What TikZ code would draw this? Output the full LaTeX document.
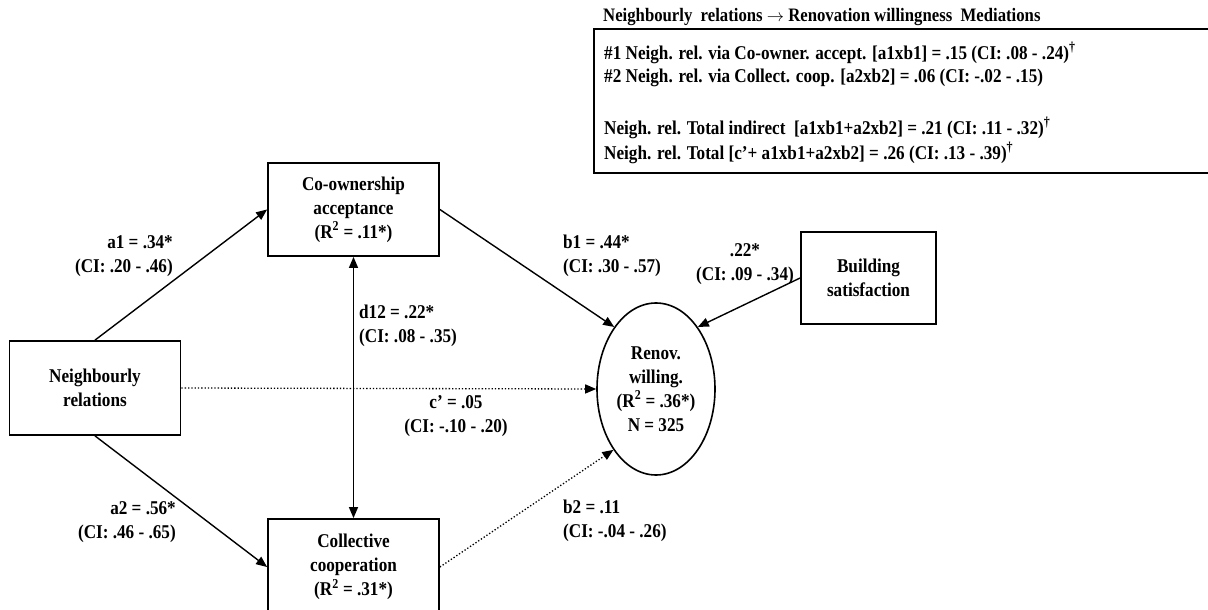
\documentclass[tikz,border=0pt]{standalone}
\usepackage{fontspec}
\setmainfont[FakeStretch=0.88]{Liberation Serif}
\usetikzlibrary{arrows.meta,shapes.geometric}
\tikzset{
  txt/.style={font=\fontsize{19.5}{24}\selectfont\bfseries, align=center},
  boxn/.style={txt, draw, line width=1.8pt, rectangle, inner sep=0pt},
  lab/.style={txt, inner sep=0pt},
  arr/.style={line width=1.4pt, -{Triangle[length=11pt,width=9pt]}},
  darr/.style={line width=1.4pt, {Triangle[length=11pt,width=9pt]}-{Triangle[length=11pt,width=9pt]}},
  dotarr/.style={line width=1.3pt, dotted, -{Triangle[length=11pt,width=9pt]}},
}
\begin{document}
\begin{tikzpicture}[x=1pt,y=-1pt]
\useasboundingbox (0,0) rectangle (1208,610);
\clip (0,0) rectangle (1208,610);
% nodes
\node[boxn, minimum width=171pt, minimum height=94pt] (neigh) at (95,388) {Neighbourly\\relations};
\node[boxn, minimum width=171pt, minimum height=93pt] (coown) at (353.5,209.5) {Co-ownership\\acceptance\\(R\textsuperscript{2} = .11*)};
\node[boxn, minimum width=171pt, minimum height=96pt] (coll) at (353.5,567) {Collective\\cooperation\\(R\textsuperscript{2} = .31*)};
\node[txt, draw, ellipse, line width=1.6pt, minimum width=118pt, minimum height=172pt, inner sep=0pt] (renov) at (656,389) {Renov.\\willing.\\(R\textsuperscript{2} = .36*)\\N = 325};
\node[boxn, minimum width=135pt, minimum height=92pt] (build) at (868.5,278) {Building\\satisfaction};
% mediation box
\draw[line width=1.8pt] (1215,29) -- (594,29) -- (594,173) -- (1215,173);
\node[lab, anchor=west, font=\fontsize{19}{20}\selectfont\bfseries] (mtitle) at (603,17) {Neighbourly~ relations $\rightarrow$ Renovation willingness~ Mediations};
\node[lab, anchor=west] (m1) at (604,53) {\#1 Neigh. rel. via Co-owner. accept. [a1xb1] = .15 (CI: .08 - .24)\textsuperscript{†}};
\node[lab, anchor=west] (m2) at (604,78) {\#2 Neigh. rel. via Collect. coop. [a2xb2] = .06 (CI: -.02 - .15)};
\node[lab, anchor=west] (m3) at (604,128) {Neigh. rel. Total indirect~ [a1xb1+a2xb2] = .21 (CI: .11 - .32)\textsuperscript{†}};
\node[lab, anchor=west] (m4) at (604,153) {Neigh. rel. Total [c’+ a1xb1+a2xb2] = .26 (CI: .13 - .39)\textsuperscript{†}};
% connectors
\draw[arr] (neigh.north) -- (coown.west);
\draw[arr] (neigh.south) -- (coll.west);
\draw[arr] (coown.east) -- (renov.124);
\draw[dotarr] (coll.east) -- (renov.235);
\draw[dotarr] (neigh.east) -- (renov.west);
\draw[arr] (build.west) -- (renov.56);
\draw[darr] (coown.south) -- (coll.north);
% labels
\node[lab, anchor=east, align=right] (la1) at (173,256) {a1 = .34*\\(CI: .20 - .46)};
\node[lab, anchor=east, align=right] (la2) at (176,522) {a2 = .56*\\(CI: .46 - .65)};
\node[lab, anchor=west, align=left] (ld12) at (359,326) {d12 = .22*\\(CI: .08 - .35)};
\node[lab] (lc) at (456,416) {c’ = .05\\(CI: -.10 - .20)};
\node[lab, anchor=west, align=left] (lb1) at (563,256) {b1 = .44*\\(CI: .30 - .57)};
\node[lab] (lbs) at (745,264) {.22*\\(CI: .09 - .34)};
\node[lab, anchor=west, align=left] (lb2) at (563,521) {b2 = .11\\(CI: -.04 - .26)};
\end{tikzpicture}
\end{document}
